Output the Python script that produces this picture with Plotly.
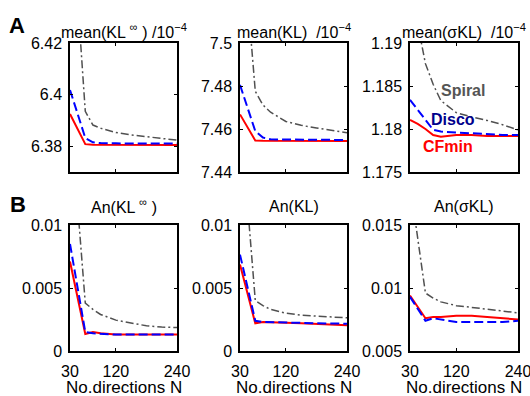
import plotly.graph_objects as go

N = [30, 45, 60, 75, 90, 120, 150, 180, 210, 240]

# Row A: mean values (/1e-4)
klinf_spiral = [6.50, 6.437, 6.3935, 6.3882, 6.3870, 6.3853, 6.3844, 6.3836, 6.3830, 6.3824]
klinf_disco = [6.4018, 6.3925, 6.3832, 6.3815, 6.3812, 6.3811, 6.3811, 6.3810, 6.3810, 6.3810]
klinf_cfmin = [6.3925, 6.3867, 6.3808, 6.3806, 6.3806, 6.3805, 6.3805, 6.3805, 6.3805, 6.3805]

kl_spiral = [7.564, 7.522, 7.4775, 7.4712, 7.4678, 7.4635, 7.4617, 7.4605, 7.4594, 7.4583]
kl_disco = [7.4805, 7.4696, 7.4590, 7.4560, 7.4552, 7.4551, 7.4550, 7.4550, 7.4550, 7.4549]
kl_cfmin = [7.4668, 7.4607, 7.4546, 7.4545, 7.4545, 7.4545, 7.4545, 7.4544, 7.4544, 7.4544]

skl_spiral = [1.1968, 1.1923, 1.1876, 1.1852, 1.1833, 1.1819, 1.1814, 1.1810, 1.1805, 1.1799]
skl_disco = [1.1834, 1.1822, 1.1810, 1.1799, 1.1797, 1.1796, 1.1795, 1.1794, 1.1793, 1.1793]
skl_cfmin = [1.18105, 1.1806, 1.1800, 1.1793, 1.1791, 1.1793, 1.1793, 1.1792, 1.1792, 1.1792]

# Row B: anisotropy
anklinf_spiral = [0.0192, 0.0114, 0.0038, 0.0033, 0.0029, 0.00245, 0.0022, 0.0020, 0.0019, 0.00186]
anklinf_disco = [0.0085, 0.0050, 0.0015, 0.0014, 0.00135, 0.0013, 0.0013, 0.0013, 0.0013, 0.0013]
anklinf_cfmin = [0.0071, 0.0042, 0.00135, 0.0015, 0.0014, 0.0013, 0.0013, 0.0013, 0.0013, 0.0013]

ankl_spiral = [0.0190, 0.0114, 0.0040, 0.0036, 0.0033, 0.0030, 0.00285, 0.00277, 0.0027, 0.00263]
ankl_disco = [0.00765, 0.0050, 0.0024, 0.0023, 0.00228, 0.00225, 0.00222, 0.0022, 0.00218, 0.00217]
ankl_cfmin = [0.00686, 0.0045, 0.0022, 0.0023, 0.0023, 0.00225, 0.0022, 0.00213, 0.00208, 0.00204]

anskl_spiral = [0.0183, 0.0141, 0.0096, 0.0092, 0.0089, 0.0086, 0.00845, 0.00833, 0.0082, 0.00803]
anskl_disco = [0.0093, 0.0083, 0.0074, 0.0076, 0.0075, 0.0073, 0.0073, 0.0073, 0.0073, 0.0074]
anskl_cfmin = [0.0094, 0.0085, 0.0076, 0.0077, 0.0077, 0.0078, 0.0078, 0.0077, 0.0076, 0.0075]

titles = ["mean(KL <sup>∞</sup> ) /10<sup>−4</sup>", "mean(KL)  /10<sup>−4</sup>", "mean(σKL)  /10<sup>−4</sup>",
          "An(KL <sup>∞</sup> )", "An(KL)", "An(σKL)"]
yranges = [[6.37, 6.42], [7.44, 7.5], [1.175, 1.19], [0, 0.01], [0, 0.01], [0.005, 0.015]]
ytickvals = [[6.38, 6.40, 6.42], [7.44, 7.46, 7.48, 7.5], [1.175, 1.18, 1.185, 1.19],
             [0, 0.005, 0.01], [0, 0.005, 0.01], [0.005, 0.01, 0.015]]
yticktext = [["6.38", "6.4", "6.42"], ["7.44", "7.46", "7.48", "7.5"], ["1.175", "1.18", "1.185", "1.19"],
             ["0", "0.005", "0.01"], ["0", "0.005", "0.01"], ["0.005", "0.01", "0.015"]]
xticks = [30, 120, 240]
xticktext = ["30", "120", "240"]
xtitle = "No.directions N"

series = [
    (klinf_cfmin, klinf_disco, klinf_spiral),
    (kl_cfmin, kl_disco, kl_spiral),
    (skl_cfmin, skl_disco, skl_spiral),
    (anklinf_cfmin, anklinf_disco, anklinf_spiral),
    (ankl_cfmin, ankl_disco, ankl_spiral),
    (anskl_cfmin, anskl_disco, anskl_spiral),
]

W, H = 530, 396
xdom_px = [(70, 177), (240, 347), (410, 518)]
ydom_px = [(43, 172), (225, 351)]

RED = "rgb(255,0,0)"
BLUE = "rgb(0,0,255)"
GREY = "rgb(80,80,80)"
FONT = "Liberation Sans, Arial, sans-serif"
TICKSIZE = 16

fig = go.Figure()
layout = {}
for i in range(6):
    r, c = divmod(i, 3)
    k = "" if i == 0 else str(i + 1)
    cf, di, sp = series[i]
    fig.add_trace(go.Scatter(x=N, y=cf, mode="lines", line=dict(color=RED, width=2),
                             xaxis="x" + k, yaxis="y" + k, showlegend=False))
    fig.add_trace(go.Scatter(x=N, y=di, mode="lines", line=dict(color=BLUE, width=2, dash="9px,4px"),
                             xaxis="x" + k, yaxis="y" + k, showlegend=False))
    fig.add_trace(go.Scatter(x=N, y=sp, mode="lines", line=dict(color=GREY, width=1.5, dash="8px,3px,2px,3px"),
                             xaxis="x" + k, yaxis="y" + k, showlegend=False))
    x0, x1 = xdom_px[c]
    y0, y1 = ydom_px[r]
    layout["xaxis" + k] = dict(
        domain=[x0 / W, x1 / W], anchor="y" + k, range=[30, 240], automargin=False,
        tickvals=xticks, ticktext=xticktext if r == 1 else ["", "", ""],
        ticks="inside", ticklen=3, tickcolor="black", mirror="ticks",
        showline=True, linecolor="black", linewidth=1.5, showgrid=False, zeroline=False,
        tickfont=dict(size=TICKSIZE, color="black", family=FONT), ticklabelstandoff=5,
        ticklabeloverflow="allow",
    )
    layout["yaxis" + k] = dict(
        domain=[1 - y1 / H, 1 - y0 / H], anchor="x" + k, range=yranges[i], automargin=False,
        tickvals=ytickvals[i], ticktext=yticktext[i],
        ticks="inside", ticklen=3, tickcolor="black", mirror="ticks",
        showline=True, linecolor="black", linewidth=1.5, showgrid=False, zeroline=False,
        tickfont=dict(size=TICKSIZE, color="black", family=FONT), ticklabelstandoff=3,
        ticklabeloverflow="allow",
    )

annotations = []
title_y = [31, 206]
for i in range(6):
    r, c = divmod(i, 3)
    x0, x1 = xdom_px[c]
    annotations.append(dict(text=titles[i], x=(x0 + x1) / 2 / W, y=1 - title_y[r] / H, xref="paper", yref="paper",
                            showarrow=False, xanchor="center", yanchor="middle",
                            font=dict(size=16, color="black", family=FONT)))
    if r == 1:
        annotations.append(dict(text=xtitle, x=(x0 + x1) / 2 / W, y=1 - 387 / H, xref="paper", yref="paper",
                                showarrow=False, xanchor="center", yanchor="middle",
                                font=dict(size=17, color="black", family=FONT)))
annotations.append(dict(text="<b>A</b>", x=7 / W, y=1 - 26 / H, xref="paper", yref="paper", showarrow=False,
                        xanchor="left", yanchor="middle", font=dict(size=22, color="black", family=FONT)))
annotations.append(dict(text="<b>B</b>", x=8 / W, y=1 - 205 / H, xref="paper", yref="paper", showarrow=False,
                        xanchor="left", yanchor="middle", font=dict(size=22, color="black", family=FONT)))
labels = [("Spiral", 463, 91, "rgb(85,85,85)"), ("Disco", 453, 119, "rgb(0,0,140)"), ("CFmin", 448, 146, RED)]
for t, x, y, col in labels:
    annotations.append(dict(text="<b>" + t + "</b>", x=x / W, y=1 - y / H, xref="paper", yref="paper",
                            showarrow=False, xanchor="center", yanchor="middle",
                            font=dict(size=16, color=col, family=FONT)))

fig.update_layout(width=W, height=H, margin=dict(l=0, r=0, t=0, b=0),
                  paper_bgcolor="white", plot_bgcolor="white",
                  annotations=annotations, **layout)
fig.write_html("out.html", config={"displayModeBar": False},
               post_script="document.body.style.margin='0';document.body.style.overflow='hidden';")
